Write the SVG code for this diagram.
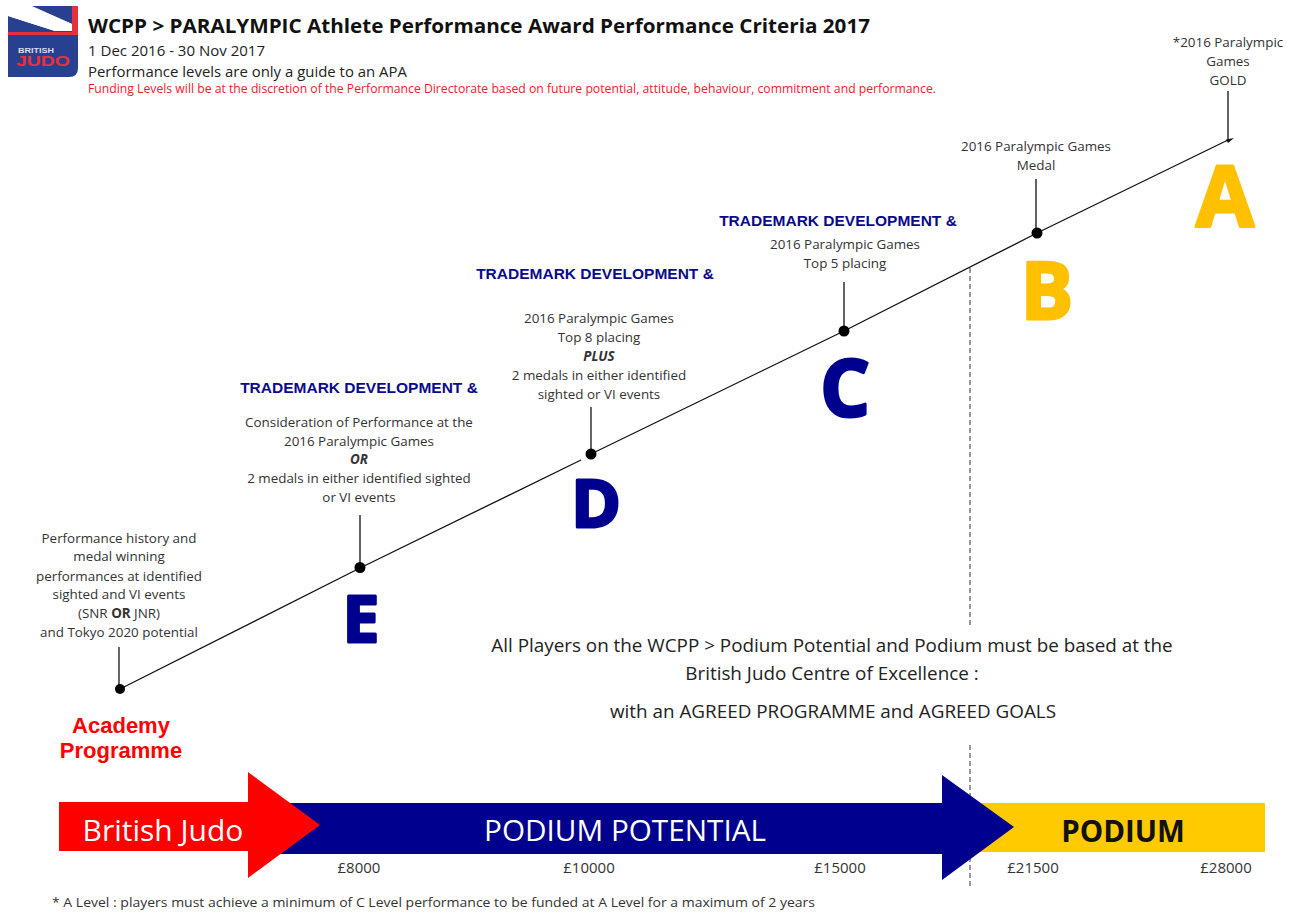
<svg xmlns="http://www.w3.org/2000/svg" width="1301" height="914" viewBox="0 0 1301 914">
<style>
text{font-family:"Open Sans","Noto Sans","Liberation Sans",sans-serif;fill:#222}
.s{font-size:13.4px;text-anchor:middle;fill:#333}
.h{font-family:"Liberation Sans",Arial,sans-serif;font-weight:700;font-size:15.500px;fill:#0a0a8c;text-anchor:middle}
.big{font-weight:700;text-anchor:middle;stroke-width:3px;stroke-linejoin:round}
.blue{fill:#00008f;stroke:#00008f}
.gold{fill:#ffc000;stroke:#ffc000}
.p{font-size:15px;text-anchor:middle;fill:#333}
.c{font-size:18.850px;text-anchor:middle;fill:#222}
.a{font-family:"Liberation Sans",Arial,sans-serif;font-weight:700;font-size:22px;fill:#f00;text-anchor:middle}
.st{stroke:#111;stroke-width:1.300;fill:none}
.d{fill:#000}
</style>
<rect width="1301" height="914" fill="#fff"/>
<g id="logo">
<path d="M8 6H78V68Q78 77 69 77H8Z" fill="#27408f"/>
<path d="M8 16L55 31H72V24L30 6H20L70 24" fill="#fff"/>
<path d="M8 6V16L55 31H72V24L32 6Z" fill="#fff"/>
<rect x="72" y="6" width="6" height="29" fill="#e8303c"/>
<rect x="8" y="32" width="70" height="3" fill="#e8303c"/>
<text x="18" y="52.500" textLength="36" lengthAdjust="spacingAndGlyphs" style="font-family:'Liberation Sans',sans-serif;font-weight:700;font-size:7px;fill:#dde">BRITISH</text>
<text x="16" y="66" textLength="54" lengthAdjust="spacingAndGlyphs" style="font-family:'Liberation Sans',sans-serif;font-weight:700;font-size:15px;fill:#e8303c">JUDO</text>
</g>
<g id="header">
<text x="88" y="33" font-size="20" font-weight="700" textLength="782" lengthAdjust="spacingAndGlyphs" style="fill:#111">WCPP &gt; PARALYMPIC Athlete Performance Award Performance Criteria 2017</text>
<text x="88" y="56" font-size="14" textLength="177" lengthAdjust="spacingAndGlyphs">1 Dec 2016 - 30 Nov 2017</text>
<text x="88" y="77" font-size="14" textLength="319" lengthAdjust="spacingAndGlyphs">Performance levels are only a guide to an APA</text>
<text x="88" y="93" font-size="12" textLength="848" lengthAdjust="spacingAndGlyphs" style="fill:#f0202a">Funding Levels will be at the discretion of the Performance Directorate based on future potential, attitude, behaviour, commitment and performance.</text>
</g>
<g id="connectors">
<path class="st" d="M120 689L360 568L581 460M591 454L844 331L1037 233L1228 140"/>
<path d="M1234 138L1226 139.500L1228 143Z" fill="#111"/>
<path class="st" d="M119 647V689M360 515V568M591 407V454M844 282V331M1036 179V233M1228 91V140"/>
<path d="M970 268V625M970 745V886" stroke="#555" stroke-width="1.200" stroke-dasharray="5 3" fill="none"/>
</g>
<g id="node-academy">
<circle class="d" cx="120" cy="689" r="5"/>
<text class="s" x="119" y="543">Performance history and</text>
<text class="s" x="119" y="561">medal winning</text>
<text class="s" x="119" y="581">performances at identified</text>
<text class="s" x="119" y="599">sighted and VI events</text>
<text class="s" x="119" y="618">(SNR <tspan font-weight="700">OR</tspan> JNR)</text>
<text class="s" x="119" y="637">and Tokyo 2020 potential</text>
<text class="a" x="121" y="733">Academy</text>
<text class="a" x="121" y="758">Programme</text>
</g>
<g id="node-e">
<circle class="d" cx="360" cy="567.500" r="5.500"/>
<text class="big blue" x="361" y="642" font-size="65" style="fill:#00008f">E</text>
<text class="h" x="359" y="393">TRADEMARK DEVELOPMENT &amp;</text>
<text class="s" x="359" y="427">Consideration of Performance at the</text>
<text class="s" x="359" y="446">2016 Paralympic Games</text>
<text class="s" x="359" y="464" font-weight="700" font-style="italic">OR</text>
<text class="s" x="359" y="483">2 medals in either identified sighted</text>
<text class="s" x="359" y="502">or VI events</text>
</g>
<g id="node-d">
<circle class="d" cx="591" cy="454" r="5.500"/>
<text class="big blue" x="596" y="526.500" font-size="67" style="fill:#00008f">D</text>
<text class="h" x="595" y="279">TRADEMARK DEVELOPMENT &amp;</text>
<text class="s" x="599" y="323">2016 Paralympic Games</text>
<text class="s" x="599" y="342">Top 8 placing</text>
<text class="s" x="599" y="361" font-weight="700" font-style="italic">PLUS</text>
<text class="s" x="599" y="380">2 medals in either identified</text>
<text class="s" x="599" y="399">sighted or VI events</text>
</g>
<g id="node-c">
<circle class="d" cx="844" cy="331" r="5.500"/>
<text class="big blue" x="845" y="416" font-size="78" style="fill:#00008f">C</text>
<text class="h" x="838" y="226">TRADEMARK DEVELOPMENT &amp;</text>
<text class="s" x="845" y="249">2016 Paralympic Games</text>
<text class="s" x="845" y="268">Top 5 placing</text>
</g>
<g id="node-b">
<circle class="d" cx="1037" cy="233" r="5.500"/>
<text class="big gold" x="1047" y="319" font-size="78" style="fill:#ffc000">B</text>
<text class="s" x="1036" y="151">2016 Paralympic Games</text>
<text class="s" x="1036" y="170">Medal</text>
</g>
<g id="node-a">
<text class="big gold" x="1225" y="226" font-size="84" style="fill:#ffc000">A</text>
<text class="s" x="1228" y="47">*2016 Paralympic</text>
<text class="s" x="1228" y="66">Games</text>
<text class="s" x="1228" y="85">GOLD</text>
</g>
<g id="note">
<text class="c" x="832" y="652">All Players on the WCPP &gt; Podium Potential and Podium must be based at the</text>
<text class="c" x="832" y="680">British Judo Centre of Excellence :</text>
<text class="c" x="833" y="718">with an AGREED PROGRAMME and AGREED GOALS</text>
</g>
<g id="bar-podium">
<rect x="980" y="803" width="285" height="49" fill="#ffcb00"/>
<text x="1123" y="842" font-size="29.500" font-weight="700" text-anchor="middle" style="fill:#111">PODIUM</text>
</g>
<g id="bar-potential">
<path d="M280 803H942V775L1014 827L942 880V854H280Z" fill="#00008f"/>
<text x="625" y="841" font-size="29.700" text-anchor="middle" style="fill:#fff">PODIUM POTENTIAL</text>
</g>
<g id="bar-judo">
<path d="M59 802H248V772L320 825L248 878V851H59Z" fill="#f00"/>
<text x="163" y="841" font-size="30" text-anchor="middle" style="fill:#fff">British Judo</text>
</g>
<g id="amounts">
<text class="p" x="359" y="873">£8000</text>
<text class="p" x="589" y="873">£10000</text>
<text class="p" x="840" y="873">£15000</text>
<text class="p" x="1033" y="873">£21500</text>
<text class="p" x="1226" y="873">£28000</text>
</g>
<text x="52" y="907" font-size="13" textLength="763" lengthAdjust="spacingAndGlyphs" style="fill:#333">* A Level : players must achieve a minimum of C Level performance to be funded at A Level for a maximum of 2 years</text>
</svg>
